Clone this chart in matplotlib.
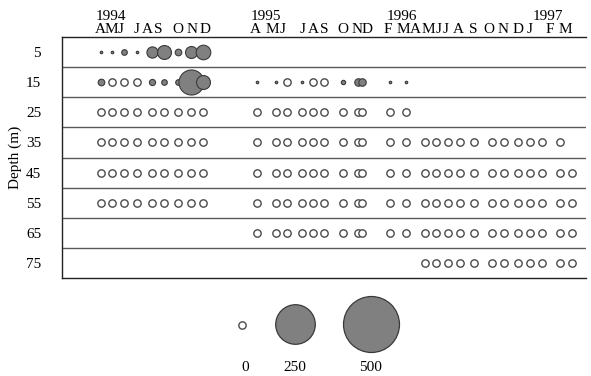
import numpy as np
import matplotlib.pyplot as plt
from matplotlib import transforms

nan = np.nan

depths = [5, 15, 25, 35, 45, 55, 65, 75]

# sampling dates, in months since 1 Jan 1994
sample_month = [3.72, 4.55, 5.45, 6.43, 7.56, 8.46, 9.51, 10.49, 11.39,
                15.45, 16.88, 17.71, 18.84, 19.66, 20.49, 21.92, 23.05, 23.35,
                25.45, 26.65, 28.08, 28.91, 29.81, 30.71, 31.77, 33.12, 34.02,
                35.08, 35.98, 36.88, 38.23, 39.14]

# abundance at each depth (nan = not sampled)
abund_5m = [1, 1, 5, 1, 20, 31, 7, 23, 34] + [nan] * 23
abund_15m = [7, 0, 0, 0, 6, 5, 5, 100, 31,
             1, 1, 0, 1, 0, 0, 3, 9, 9,
             1, 1] + [nan] * 12
abund_25m = [0] * 20 + [nan] * 12
abund_35m = [0] * 31 + [nan]
abund_45m = [0] * 32
abund_55m = [0] * 32
abund_65m = [nan] * 9 + [0] * 23
abund_75m = [nan] * 20 + [0] * 12

rows = [abund_5m, abund_15m, abund_25m, abund_35m,
        abund_45m, abund_55m, abund_65m, abund_75m]

# month letters along the top
month_pos = [3.65, 4.47, 5.23, 6.43, 7.18, 8.01, 9.51, 10.56, 11.54,
             15.30, 16.58, 17.41, 18.91, 19.66, 20.49, 21.92, 22.97, 23.72,
             25.30, 26.47, 27.37, 28.35, 29.14, 29.62, 30.56, 31.69, 32.89,
             33.95, 35.08, 35.98, 37.48, 38.61]
month_lab = list('AMJJASOND') + list('AMJJASOND') + list('FMAMJJASOND') + list('JFM')
year_pos = [4.47, 16.13, 26.35, 37.33]
year_lab = ['1994', '1995', '1996', '1997']

legend_vals = [0, 250, 500]

plt.rcParams['font.family'] = ['Liberation Serif', 'DejaVu Serif']
plt.rcParams['font.size'] = 11

GREY = '#808080'
EDGE = '#3a3a3a'
OPEN_S = 28


def bubble_size(v):
    return 3.25 * np.asarray(v, dtype=float)


fig = plt.figure(figsize=(5.91, 3.76), dpi=100)
ax = fig.add_axes([62 / 591, 1 - 278 / 376, 524 / 591, 241 / 376])

x = np.array(sample_month)
for i, vals in enumerate(rows):
    vals = np.array(vals, dtype=float)
    for xi, v in zip(x, vals):
        if np.isnan(v):
            continue
        if v == 0:
            ax.scatter(xi, i, s=OPEN_S, facecolor='white', edgecolor='#4a4a4a',
                       linewidth=1.0, zorder=3)
        else:
            ax.scatter(xi, i, s=bubble_size(v), facecolor=GREY, edgecolor=EDGE,
                       linewidth=0.8, zorder=3)

ax.set_xlim((62 - 51.5) / 13.3, (586 - 51.5) / 13.3)
ax.set_ylim(len(depths) - 0.5, -0.5)

for b in np.arange(0.5, len(depths) - 0.5, 1):
    ax.axhline(b, color='#5a5a5a', lw=1.0, zorder=1)

ax.spines['right'].set_visible(False)
for s in ['top', 'bottom', 'left']:
    ax.spines[s].set_color('#222222')
    ax.spines[s].set_linewidth(1.0)

ax.set_yticks(range(len(depths)), [str(d) for d in depths])
ax.tick_params(axis='y', length=0, pad=15)
ax.set_ylabel('Depth (m)', labelpad=3)

ax.xaxis.tick_top()
ax.set_xticks(month_pos, month_lab)
ax.tick_params(axis='x', length=0, pad=1)

trans = transforms.blended_transform_factory(ax.transData, ax.transAxes)
for xp, lab in zip(year_pos, year_lab):
    ax.text(xp, 1 + 17 / 241, lab, transform=trans, ha='center', va='baseline')

# size legend
lax = fig.add_axes([0, 0, 1, 0.25])
lax.set_xlim(0, 591)
lax.set_ylim(94, 0)
lax.axis('off')
leg_x = [242, 295, 371]
for xp, v in zip(leg_x, legend_vals):
    if v == 0:
        lax.scatter(xp, 43, s=OPEN_S, facecolor='white', edgecolor='#4a4a4a', linewidth=1.0)
    else:
        lax.scatter(xp, 42, s=bubble_size(v), facecolor=GREY, edgecolor=EDGE, linewidth=0.9)
    lax.text(xp + (3 if v == 0 else 0), 89, str(v), ha='center', va='baseline')

fig.savefig('out.png', dpi=100)
